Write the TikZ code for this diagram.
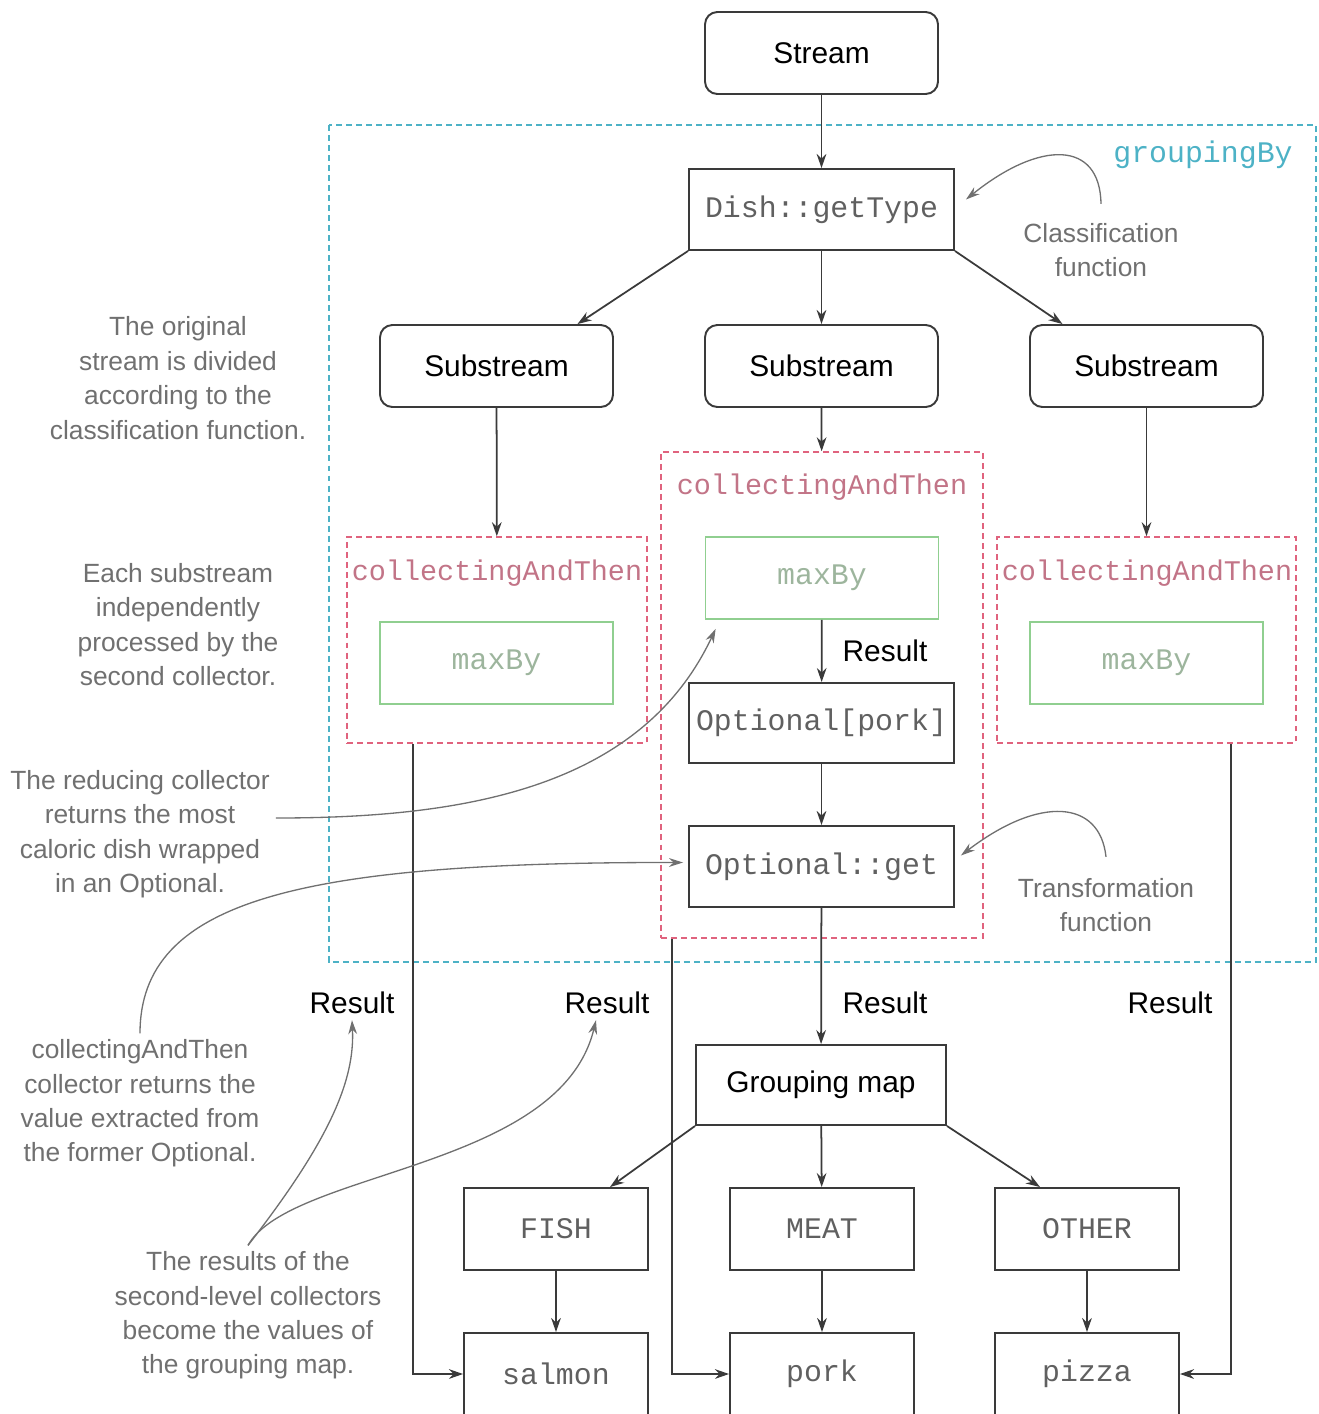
\documentclass[tikz,border=0pt]{standalone}
\usepackage{fontspec}
\setmainfont{Liberation Sans}
\setsansfont{Liberation Sans}
\setmonofont{Liberation Mono}
\usepackage{tikz}
\usetikzlibrary{arrows.meta, positioning, calc}
\tikzset{every node/.style={font=\sffamily}}
\usepackage{xcolor}
\definecolor{boxline}{HTML}{3A3A3A}
\definecolor{codegray}{HTML}{606060}
\definecolor{notegray}{HTML}{707070}
\definecolor{grpcyan}{HTML}{4DB2C6}
\definecolor{catred}{HTML}{E0637E}
\definecolor{cattext}{HTML}{C27487}
\definecolor{maxgreen}{HTML}{90CF90}
\definecolor{maxtext}{HTML}{9DB59D}

\tikzset{
  flow/.style={-{Stealth[length=8pt,width=5.5pt]}, line width=1pt, boxline},
  notearrow/.style={-{Stealth[length=8pt,width=5pt]}, line width=0.75pt, notegray},
  roundbox/.style={draw=boxline, line width=1.1pt, rounded corners=7pt, minimum width=4.66cm, minimum height=1.64cm, inner sep=0pt, font=\sffamily\fontsize{17}{20}\selectfont},
  codebox/.style={draw=boxline, line width=1.1pt, minimum width=5.3cm, minimum height=1.62cm, inner sep=0pt, text=codegray, font=\ttfamily\fontsize{17}{20}\selectfont},
  keybox/.style={codebox, minimum width=3.68cm, minimum height=1.64cm},
  maxbox/.style={draw=maxgreen, line width=1pt, minimum width=4.66cm, minimum height=1.64cm, inner sep=0pt, text=maxtext, font=\ttfamily\fontsize{17}{20}\selectfont},
  catframe/.style={draw=catred, dash pattern=on 3.4pt off 2.3pt, line width=0.9pt, inner sep=0pt},
  catlabel/.style={text=cattext, inner sep=0pt, font=\ttfamily\fontsize{16.2}{19}\selectfont},
  grpframe/.style={draw=grpcyan, dash pattern=on 3.4pt off 2.3pt, line width=0.9pt},
  notetext/.style={text=notegray, align=center, font=\sffamily\fontsize{15}{19.6}\selectfont},
  result/.style={font=\sffamily\fontsize{17}{20}\selectfont}
}

\begin{document}
\begin{tikzpicture}[x=0.02cm, y=-0.02cm]
  \clip (0,0) rectangle (1319,1414);

  % groupingBy frame
  \draw[grpframe] (329,125) rectangle (1316,962);
  \node[text=grpcyan, font=\ttfamily\fontsize{17}{20}\selectfont] (grpLabel) at (1203,155) {groupingBy};

  % collectingAndThen frames
  \node[catframe, minimum width=6cm, minimum height=4.12cm] (catL) at (497,640) {};
  \node[catframe, minimum width=6.44cm, minimum height=9.72cm] (catM) at (822,695) {};
  \node[catframe, minimum width=5.98cm, minimum height=4.12cm] (catR) at (1146.5,640) {};
  \node[catlabel] (catLLabel) at (497,573) {collectingAndThen};
  \node[catlabel] (catMLabel) at (822,487) {collectingAndThen};
  \node[catlabel] (catRLabel) at (1147,573) {collectingAndThen};

  % main column
  \node[roundbox] (stream) at (821.5,53) {Stream};
  \node[codebox] (getType) at (821.5,209.5) {Dish::getType};
  \node[roundbox] (subL) at (496.5,366) {Substream};
  \node[roundbox] (subM) at (821.5,366) {Substream};
  \node[roundbox] (subR) at (1146.5,366) {Substream};
  \node[maxbox] (maxL) at (496.5,663) {maxBy};
  \node[maxbox] (maxM) at (822,578) {maxBy};
  \node[maxbox] (maxR) at (1146.5,663) {maxBy};
  \node[codebox, minimum height=1.6cm] (optPork) at (821.5,723) {Optional[pork]};
  \node[codebox] (optGet) at (821.5,866.5) {Optional::get};
  \node[codebox, minimum width=5cm, minimum height=1.6cm, text=black, font=\sffamily\fontsize{17}{20}\selectfont] (gmap) at (821,1085) {Grouping map};
  \node[keybox] (fish) at (556,1229) {FISH};
  \node[keybox] (meat) at (822,1229) {MEAT};
  \node[keybox] (other) at (1087,1229) {OTHER};
  \node[keybox] (salmon) at (556,1374) {salmon};
  \node[keybox] (pork) at (822,1374) {pork};
  \node[keybox] (pizza) at (1087,1374) {pizza};

  % result labels
  \node[result] (resMid) at (885,651) {Result};
  \node[result] (resA) at (352,1003) {Result};
  \node[result] (resB) at (607,1003) {Result};
  \node[result] (resC) at (885,1003) {Result};
  \node[result] (resD) at (1170,1003) {Result};

  % connectors
  \draw[flow] (stream) -- (getType);
  \draw[flow] (getType.south west) -- ([xshift=1.62cm]subL.north);
  \draw[flow] (getType) -- (subM);
  \draw[flow] (getType.south east) -- ([xshift=-1.68cm]subR.north);
  \draw[flow] (subL) -- (catL);
  \draw[flow] (subM) -- (catM);
  \draw[flow] (subR) -- (catR);
  \draw[flow] (maxM) -- (optPork);
  \draw[flow] (optPork) -- (optGet);
  \draw[flow] (optGet) -- (gmap);
  \draw[flow] (gmap.south west) -- ([xshift=1.08cm]fish.north);
  \draw[flow] (gmap) -- (meat);
  \draw[flow] (gmap.south east) -- ([xshift=-0.94cm]other.north);
  \draw[flow] (fish) -- (salmon);
  \draw[flow] (meat) -- (pork);
  \draw[flow] (other) -- (pizza);
  \draw[flow] ([xshift=-1.68cm]catL.south) |- (salmon.west);
  \draw[flow] ([xshift=-3cm]catM.south) |- (pork.west);
  \draw[flow] ([xshift=1.69cm]catR.south) |- (pizza.east);

  % annotations
  \node[notetext] (classNote) at (1101,250) {Classification\\function};
  \node[notetext] (transNote) at (1106,905) {Transformation\\function};
  \node[notetext] (origNote) at (178,378) {The original\\stream is divided\\according to the\\classification function.};
  \node[notetext] (eachNote) at (178,624.5) {Each substream\\independently\\processed by the\\second collector.};
  \node[notetext] (reduceNote) at (140,834) {The reducing collector\\returns the most\\caloric dish wrapped\\in an Optional.};
  \node[notetext] (catNote) at (140,1103.5) {collectingAndThen\\collector returns the\\value extracted from\\the former Optional.};
  \node[notetext] (resultsNote) at (248,1315.5) {The results of the\\second-level collectors\\become the values of\\the grouping map.};

  \draw[notearrow] ([yshift=0.26cm]classNote.north) .. controls (1100,140) and (1040,140) .. ([shift={(11,-10)}]getType.east);
  \draw[notearrow] ([yshift=0.3cm]transNote.north) .. controls (1100,800) and (1040,795) .. ([shift={(6,-11)}]optGet.east);
  \draw[notearrow] ([yshift=0.32cm]reduceNote.east) .. controls (460,818) and (640,790) .. ([shift={(11,9)}]maxM.south west);
  \draw[notearrow] (catNote.north) .. controls (140,900) and (300,862) .. ([shift={(-5,-4)}]optGet.west);
  \draw[notearrow] (resultsNote.north) .. controls (330,1140) and (355,1080) .. (resA.south);
  \draw[notearrow] (resultsNote.north) .. controls (290,1170) and (560,1170) .. ([xshift=-0.22cm]resB.south);
\end{tikzpicture}
\end{document}
